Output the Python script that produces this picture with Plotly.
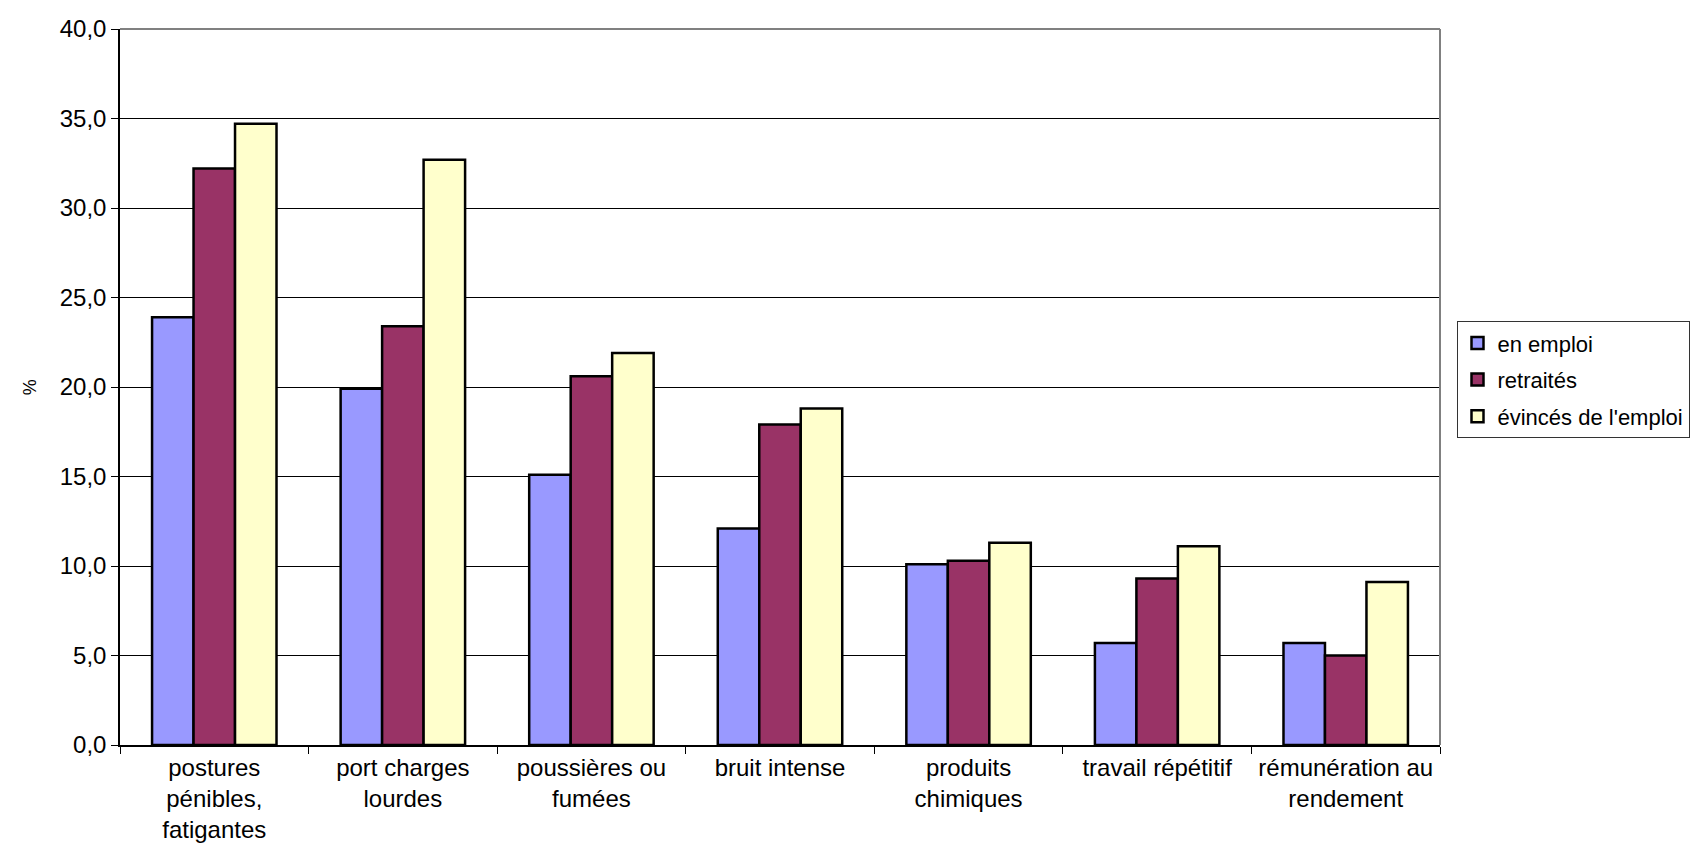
import plotly.graph_objects as go

categories = [
    "postures<br>pénibles,<br>fatigantes",
    "port charges<br>lourdes",
    "poussières ou<br>fumées",
    "bruit intense",
    "produits<br>chimiques",
    "travail répétitif",
    "rémunération au<br>rendement",
]
en_emploi = [23.9, 19.9, 15.1, 12.1, 10.1, 5.7, 5.7]
retraites = [32.2, 23.4, 20.6, 17.9, 10.3, 9.3, 5.0]
evinces = [34.7, 32.7, 21.9, 18.8, 11.3, 11.1, 9.1]
series_names = ["en emploi", "retraités", "évincés de l'emploi"]
series_colors = ["#9999FF", "#993366", "#FFFFCC"]
y_tickvals = [0, 5, 10, 15, 20, 25, 30, 35, 40]

FONT = "Liberation Sans, Arial, sans-serif"

fig = go.Figure()
for name, vals, col in zip(series_names, [en_emploi, retraites, evinces], series_colors):
    fig.add_trace(go.Bar(
        x=categories, y=vals, name=name, legendgroup=name,
        marker=dict(color=col, line=dict(color="black", width=2.5)),
    ))

fig.update_layout(
    width=1699, height=845,
    margin=dict(l=112, r=267, t=21, b=108, autoexpand=False),
    paper_bgcolor="white", plot_bgcolor="white",
    barmode="group", bargap=0.34, bargroupgap=0,
    separators=",.",
    font=dict(family=FONT, size=24, color="black"),
    showlegend=True,
    legend=dict(
        x=1.0125, xanchor="left", y=0.592, yanchor="top",
        bordercolor="#333333", borderwidth=1,
        font=dict(family=FONT, size=22, color="black"),
        traceorder="grouped", tracegroupgap=5,
        bgcolor="white",
    ),
    xaxis=dict(
        showline=True, linecolor="black", linewidth=1.5,
        ticks="outside", ticklen=7, tickcolor="black", tickson="boundaries",
        tickfont=dict(family=FONT, size=24, color="black"),
        showgrid=False,
    ),
    yaxis=dict(
        range=[0, 40], tickvals=y_tickvals, tickformat=".1f",
        showline=True, linecolor="black", linewidth=1.5,
        ticks="outside", ticklen=7, tickcolor="black",
        tickfont=dict(family=FONT, size=24, color="black"),
        showgrid=True, gridcolor="black", gridwidth=1,
        zeroline=False,
    ),
    annotations=[dict(
        text="%", xref="paper", yref="paper", x=-0.068, y=0.5,
        xanchor="center", yanchor="middle", textangle=-90, showarrow=False,
        font=dict(family=FONT, size=18, color="black"),
    )],
    shapes=[
        dict(type="line", xref="paper", yref="paper", x0=0, x1=1, y0=1, y1=1,
             line=dict(color="#808080", width=2)),
        dict(type="line", xref="paper", yref="paper", x0=1, x1=1, y0=0, y1=1,
             line=dict(color="#808080", width=2)),
    ],
)

fig.write_html("out.html")
